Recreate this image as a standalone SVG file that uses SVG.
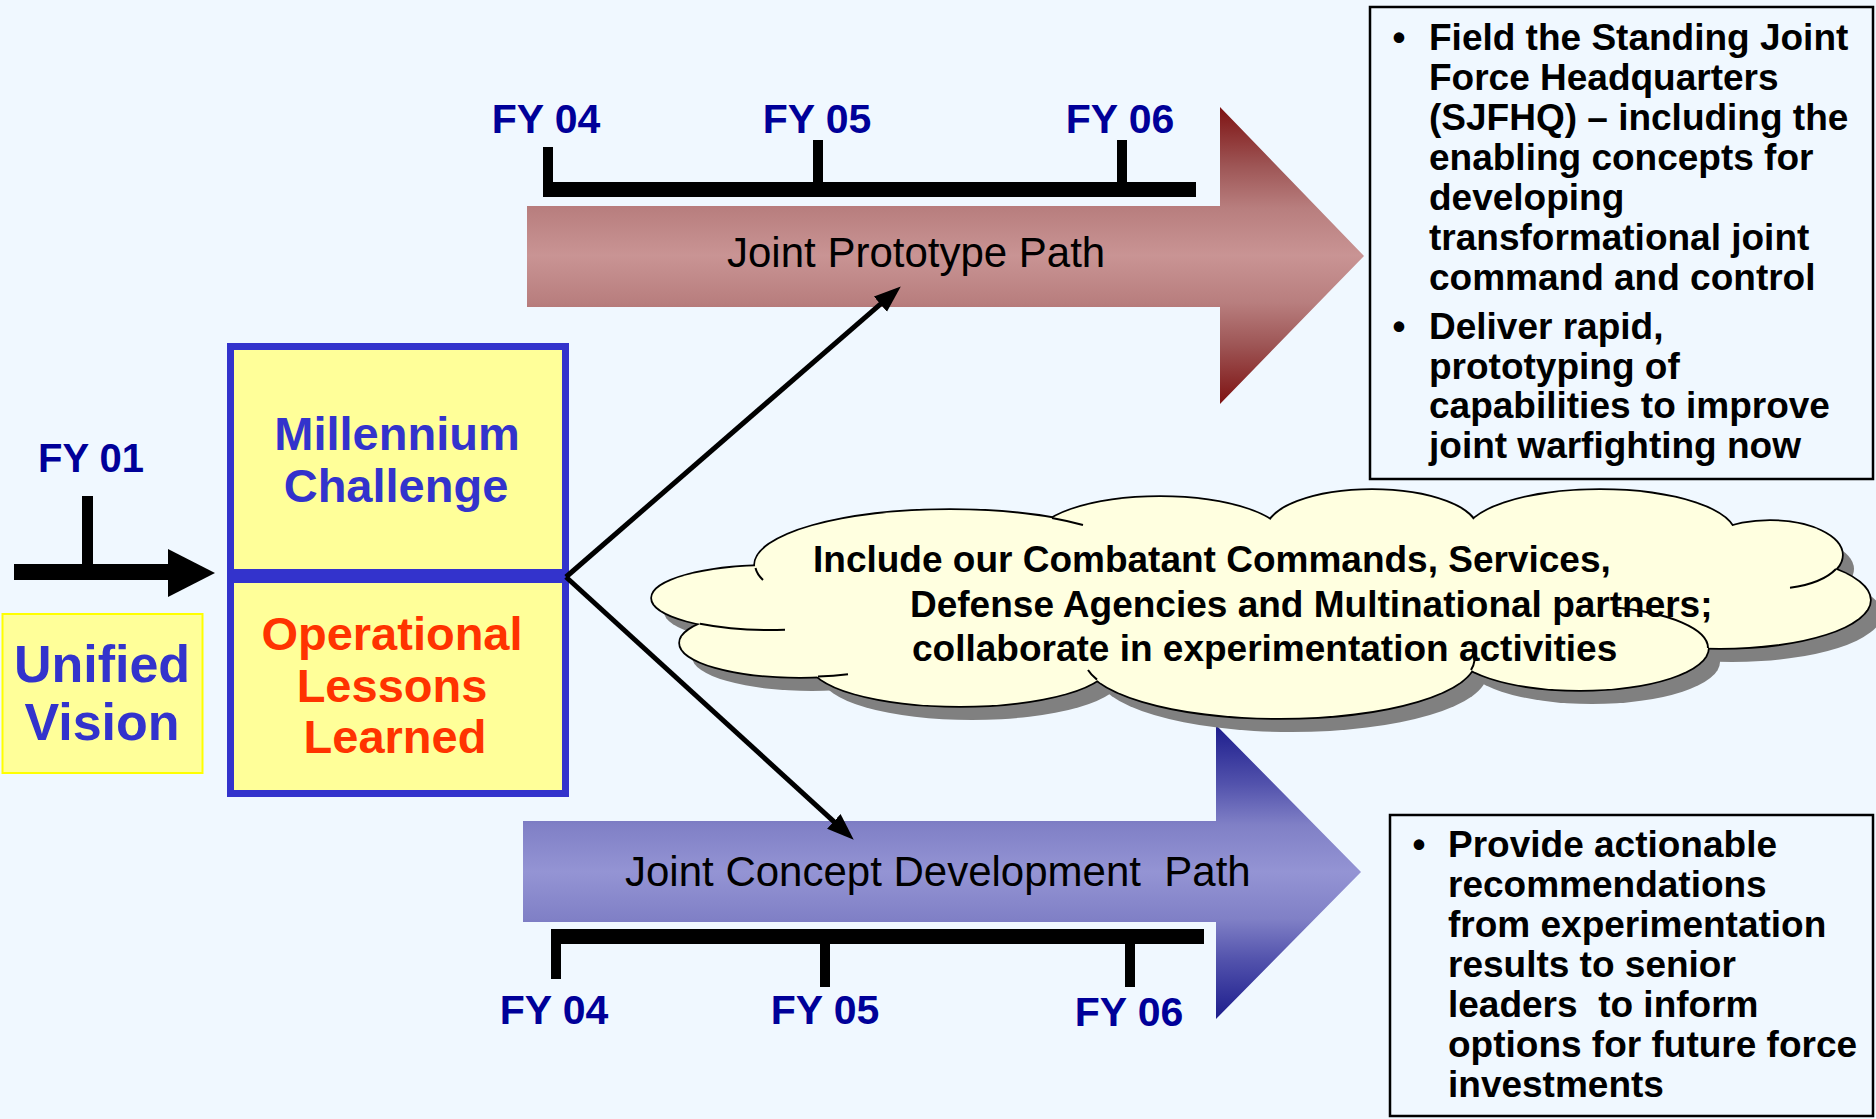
<svg xmlns="http://www.w3.org/2000/svg" xmlns:xlink="http://www.w3.org/1999/xlink" width="1876" height="1119" viewBox="0 0 1876 1119">
<defs>
<style>
text{font-family:"Liberation Sans",Arial,sans-serif}
.fy{font-size:41px;font-weight:bold;fill:#000099;text-anchor:middle}
.bx{font-size:47px;font-weight:bold;text-anchor:middle}
.path{font-size:42px;fill:#000}
.bl{font-size:37px;font-weight:bold;fill:#000}
.bu{font-size:37px;font-weight:bold;fill:#000;text-anchor:middle}
.cld{font-size:37px;font-weight:bold;fill:#000}
.bar{fill:#000}
.conn{stroke:#000;stroke-width:5;fill:none}
.inner{fill:none;stroke:#000;stroke-width:2}
</style>
<linearGradient id="gRed" gradientUnits="userSpaceOnUse" x1="0" y1="107" x2="0" y2="404">
<stop offset="0" stop-color="#7E1212"/>
<stop offset="0.2" stop-color="#9E5656"/>
<stop offset="0.34" stop-color="#B87E7E"/>
<stop offset="0.5" stop-color="#C99494"/>
<stop offset="0.66" stop-color="#B87E7E"/>
<stop offset="0.8" stop-color="#9E5656"/>
<stop offset="1" stop-color="#7E1212"/>
</linearGradient>
<linearGradient id="gBlue" gradientUnits="userSpaceOnUse" x1="0" y1="725" x2="0" y2="1019">
<stop offset="0" stop-color="#1C1C8C"/>
<stop offset="0.2" stop-color="#5252AC"/>
<stop offset="0.34" stop-color="#8080C6"/>
<stop offset="0.5" stop-color="#9494D4"/>
<stop offset="0.66" stop-color="#8080C6"/>
<stop offset="0.8" stop-color="#5252AC"/>
<stop offset="1" stop-color="#1C1C8C"/>
</linearGradient>
<marker id="ah" markerUnits="userSpaceOnUse" markerWidth="28" markerHeight="22" refX="2" refY="10" orient="auto">
<path d="M0,0 L27,10 L0,20 Z" fill="#000"/>
</marker>
<g id="lobes">
<ellipse cx="770" cy="598" rx="118" ry="32"/>
<ellipse cx="800" cy="643" rx="120" ry="34"/>
<ellipse cx="950" cy="565" rx="195" ry="55"/>
<ellipse cx="1160" cy="540" rx="125" ry="43"/>
<ellipse cx="1372" cy="530" rx="105" ry="40"/>
<ellipse cx="1600" cy="535" rx="135" ry="45"/>
<ellipse cx="1770" cy="555" rx="72" ry="34"/>
<ellipse cx="1720" cy="600" rx="150" ry="48"/>
<ellipse cx="1580" cy="648" rx="128" ry="42"/>
<ellipse cx="1280" cy="660" rx="195" ry="58"/>
<ellipse cx="960" cy="663" rx="150" ry="43"/>
</g>
<ellipse id="ccore" cx="1260" cy="600" rx="480" ry="60"/>
</defs>

<rect x="0" y="0" width="1876" height="1119" fill="#F0F8FF"/>

<g id="prototype-arrow">
<path d="M527,206 H1220 V107 L1364,256 L1220,404 V307 H527 Z" fill="url(#gRed)"/>
<text class="path" x="727" y="267">Joint Prototype Path</text>
</g>

<g id="concept-arrow">
<path d="M523,821 H1216 V725 L1361,872 L1216,1019 V922 H523 Z" fill="url(#gBlue)"/>
<text class="path" x="625" y="886" xml:space="preserve" style="white-space:pre">Joint Concept Development  Path</text>
</g>

<g id="timeline-top">
<rect class="bar" x="543" y="182" width="653" height="15"/>
<rect class="bar" x="543" y="147" width="10" height="50"/>
<rect class="bar" x="813" y="140" width="10" height="42"/>
<rect class="bar" x="1117" y="140" width="10" height="42"/>
<text class="fy" x="546" y="133">FY 04</text>
<text class="fy" x="817" y="133">FY 05</text>
<text class="fy" x="1120" y="133">FY 06</text>
</g>

<g id="timeline-bottom">
<rect class="bar" x="551" y="929" width="653" height="15"/>
<rect class="bar" x="551" y="929" width="10" height="50"/>
<rect class="bar" x="820" y="944" width="10" height="43"/>
<rect class="bar" x="1125" y="944" width="10" height="43"/>
<text class="fy" x="554" y="1024">FY 04</text>
<text class="fy" x="825" y="1024">FY 05</text>
<text class="fy" x="1129" y="1026">FY 06</text>
</g>

<g id="cloud">
<g fill="#808080" transform="translate(12,14)">
<use xlink:href="#lobes"/>
<use xlink:href="#ccore"/>
</g>
<use xlink:href="#lobes" fill="#FFFFE0" stroke="#000" stroke-width="3.5"/>
<use xlink:href="#lobes" fill="#FFFFE0"/>
<use xlink:href="#ccore" fill="#FFFFE0"/>
<path class="inner" d="M700,623.8 A118,32 0 0 0 785,629.7"/>
<path class="inner" d="M818,676.5 A120,34 0 0 0 848,674.2"/>
<path class="inner" d="M755.5,568 A195,55 0 0 0 763,580"/>
<path class="inner" d="M1052,518 A195,55 0 0 1 1083,525"/>
<path class="inner" d="M1836,569 A72,34 0 0 1 1790,587.7"/>
<path class="inner" d="M1615,607.6 A128,42 0 0 1 1708,648"/>
<path class="inner" d="M1471,670 A195,58 0 0 0 1473,652"/>
<path class="inner" d="M1097,679.6 A195,58 0 0 1 1088,670"/>
<text class="cld" x="813" y="572">Include our Combatant Commands, Services,</text>
<text class="cld" x="910" y="617">Defense Agencies and Multinational partners;</text>
<text class="cld" x="912" y="661">collaborate in experimentation activities</text>
</g>

<g id="fy01">
<rect class="bar" x="82" y="496" width="11" height="70"/>
<rect class="bar" x="14" y="564" width="156" height="16"/>
<path d="M168,549 L215,573 L168,597 Z" fill="#000"/>
<text x="91" y="472" style="font-size:40px;font-weight:bold;fill:#000099;text-anchor:middle">FY 01</text>
</g>

<g id="unified-vision">
<rect x="2.5" y="614" width="200" height="159" fill="#FFFF99" stroke="#FFFF00" stroke-width="2"/>
<text x="102" y="682" style="font-size:52px;font-weight:bold;fill:#3333CC;text-anchor:middle">Unified</text>
<text x="102" y="740" style="font-size:52px;font-weight:bold;fill:#3333CC;text-anchor:middle">Vision</text>
</g>

<g id="millennium-challenge">
<rect x="230.5" y="346.5" width="335" height="226" fill="#FFFF99" stroke="#3333CC" stroke-width="7"/>
<text class="bx" x="397" y="450" fill="#3333CC">Millennium</text>
<text class="bx" x="396" y="502" fill="#3333CC">Challenge</text>
</g>

<g id="lessons-learned">
<rect x="230.5" y="579.5" width="335" height="214" fill="#FFFF99" stroke="#3333CC" stroke-width="7"/>
<text class="bx" x="392" y="650" fill="#FF3300">Operational</text>
<text class="bx" x="392" y="702" fill="#FF3300">Lessons</text>
<text class="bx" x="395" y="753" fill="#FF3300">Learned</text>
</g>

<g id="connectors">
<line class="conn" x1="566" y1="577" x2="881.9" y2="302.8" marker-end="url(#ah)"/>
<line class="conn" x1="566" y1="577" x2="835.3" y2="822.8" marker-end="url(#ah)"/>
</g>

<g id="prototype-goals">
<rect x="1370" y="7" width="503" height="472" fill="none" stroke="#000" stroke-width="2.5"/>
<text class="bu" x="1399" y="50">•</text>
<text class="bl" x="1429" y="50">Field the Standing Joint</text>
<text class="bl" x="1429" y="90">Force Headquarters</text>
<text class="bl" x="1429" y="130">(SJFHQ) – including the</text>
<text class="bl" x="1429" y="170">enabling concepts for</text>
<text class="bl" x="1429" y="210">developing</text>
<text class="bl" x="1429" y="250">transformational joint</text>
<text class="bl" x="1429" y="290">command and control</text>
<text class="bu" x="1399" y="339">•</text>
<text class="bl" x="1429" y="339">Deliver rapid,</text>
<text class="bl" x="1429" y="378.5">prototyping of</text>
<text class="bl" x="1429" y="418">capabilities to improve</text>
<text class="bl" x="1429" y="457.5">joint warfighting now</text>
</g>

<g id="concept-goals">
<rect x="1390" y="815" width="483" height="301" fill="none" stroke="#000" stroke-width="2.5"/>
<text class="bu" x="1419" y="857">•</text>
<text class="bl" x="1448" y="857">Provide actionable</text>
<text class="bl" x="1448" y="897">recommendations</text>
<text class="bl" x="1448" y="937">from experimentation</text>
<text class="bl" x="1448" y="977">results to senior</text>
<text class="bl" x="1448" y="1017" xml:space="preserve" style="white-space:pre">leaders  to inform</text>
<text class="bl" x="1448" y="1057">options for future force</text>
<text class="bl" x="1448" y="1097">investments</text>
</g>
</svg>
